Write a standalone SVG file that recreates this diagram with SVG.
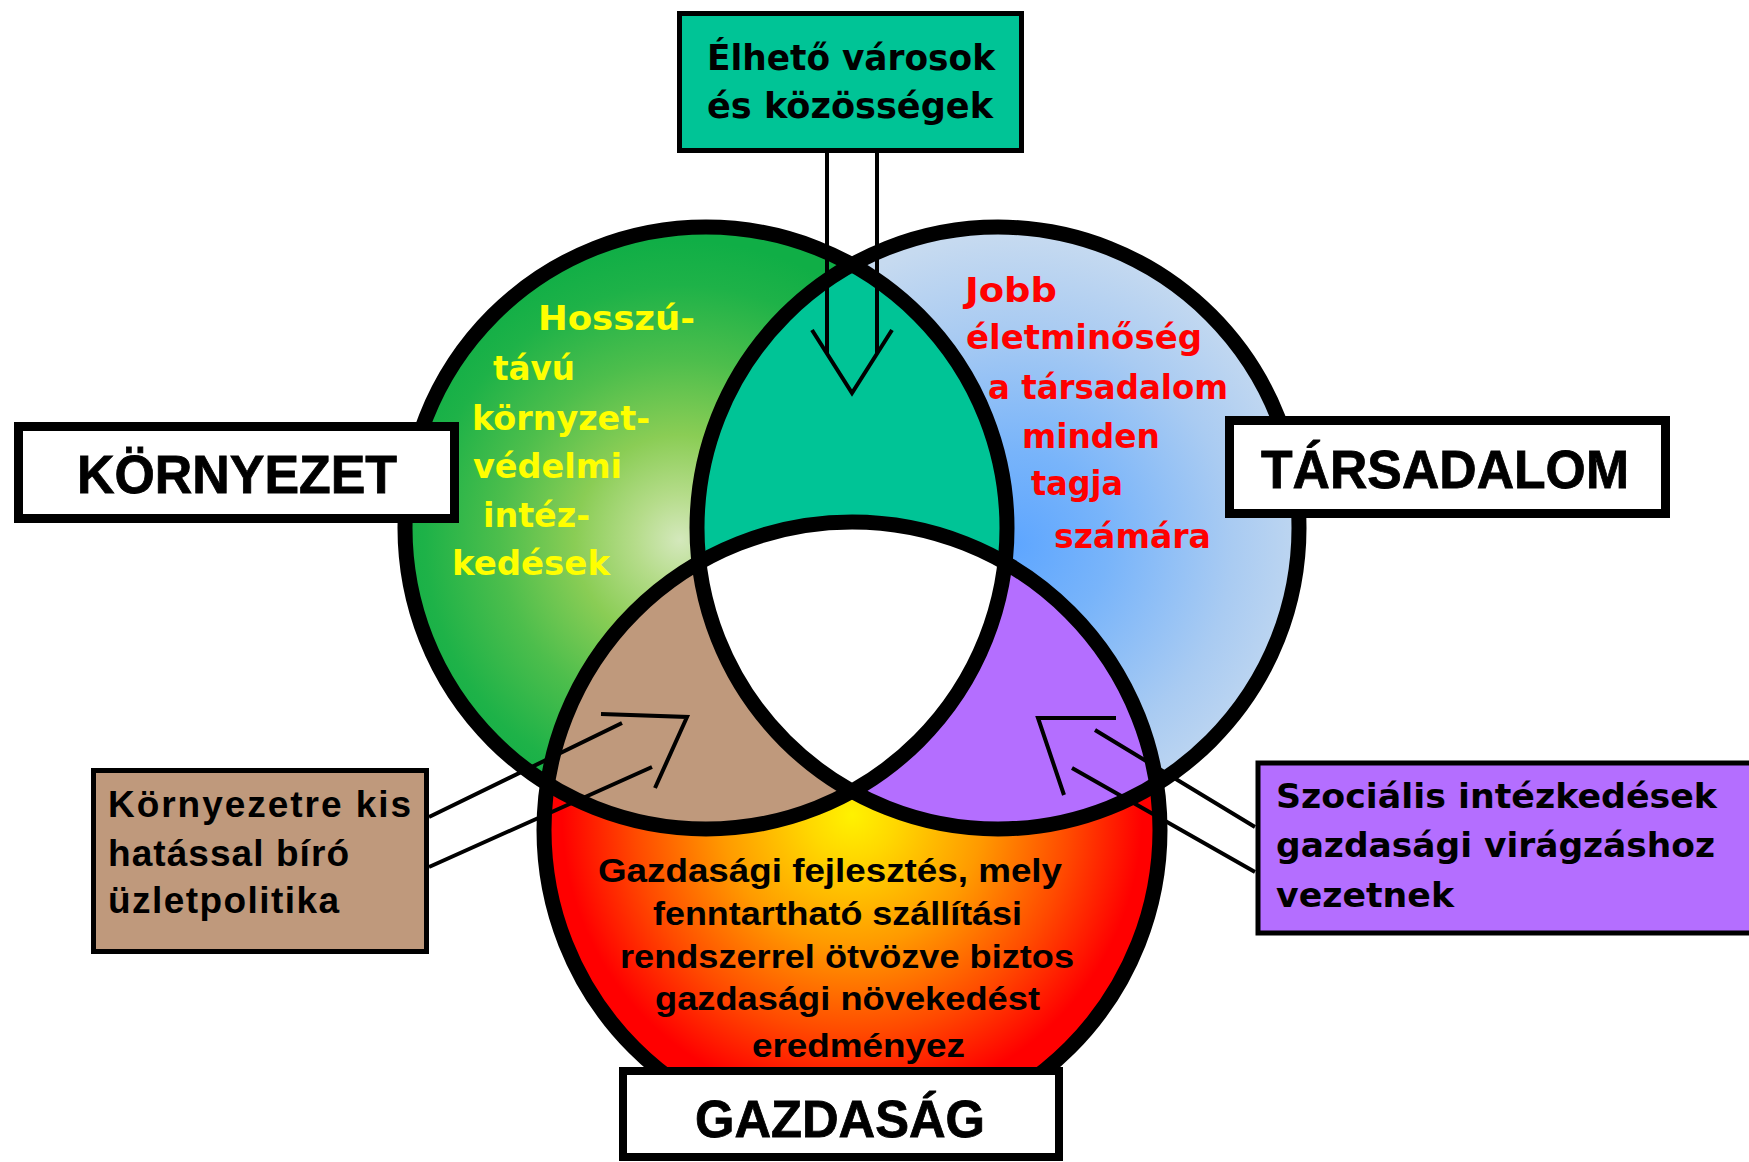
<svg xmlns="http://www.w3.org/2000/svg" width="1749" height="1162" viewBox="0 0 1749 1162">
<style>
.big { font-family: "Liberation Sans", Arial, sans-serif; font-weight: bold; font-size: 54px; fill: #000; stroke: #000; stroke-width: 0.8; }
.cond { font-family: "Liberation Sans", Arial, sans-serif; font-weight: bold; fill: #000; }
.tah { font-family: "DejaVu Sans", Verdana, sans-serif; font-weight: bold; }
.ring { fill: none; stroke: #000; stroke-width: 15; }
.conn { fill: none; stroke: #000; stroke-width: 4; stroke-linejoin: miter; }
.lblbox { fill: #fff; stroke: #000; stroke-width: 9; }
.thin { stroke: #000; stroke-width: 5; }
</style>
<defs>
  <radialGradient id="gGreen" gradientUnits="userSpaceOnUse" cx="680" cy="540" r="300">
    <stop offset="0" stop-color="#D4E8BC"/>
    <stop offset="0.15" stop-color="#B5DC8A"/>
    <stop offset="0.35" stop-color="#8ACD55"/>
    <stop offset="0.6" stop-color="#4DBE4C"/>
    <stop offset="0.85" stop-color="#1EB248"/>
    <stop offset="1" stop-color="#10AE46"/>
  </radialGradient>
  <radialGradient id="gBlue" gradientUnits="userSpaceOnUse" cx="1015" cy="545" r="310">
    <stop offset="0" stop-color="#5EA6FF"/>
    <stop offset="0.3" stop-color="#78B4FA"/>
    <stop offset="0.7" stop-color="#A9CBF2"/>
    <stop offset="1" stop-color="#C6DAF0"/>
  </radialGradient>
  <radialGradient id="gRed" gradientUnits="userSpaceOnUse" cx="852" cy="815" r="290">
    <stop offset="0" stop-color="#FFF200"/>
    <stop offset="0.15" stop-color="#FFD800"/>
    <stop offset="0.45" stop-color="#FF9A00"/>
    <stop offset="0.75" stop-color="#FF4A00"/>
    <stop offset="1" stop-color="#FF0000"/>
  </radialGradient>
  <clipPath id="clipL"><circle cx="706" cy="528" r="301"/></clipPath>
  <clipPath id="clipR"><circle cx="998" cy="528" r="301"/></clipPath>
</defs>
<rect width="1749" height="1162" fill="#fff"/>

<g id="venn">
  <circle cx="706" cy="528" r="301" fill="url(#gGreen)"/>
  <circle cx="998" cy="528" r="301" fill="url(#gBlue)"/>
  <circle cx="852" cy="830" r="308" fill="url(#gRed)"/>
  <circle cx="998" cy="528" r="301" fill="#00C496" clip-path="url(#clipL)"/>
  <circle cx="852" cy="830" r="308" fill="#BF997C" clip-path="url(#clipL)"/>
  <circle cx="852" cy="830" r="308" fill="#B46EFF" clip-path="url(#clipR)"/>
  <g clip-path="url(#clipL)"><circle cx="852" cy="830" r="308" fill="#fff" clip-path="url(#clipR)"/></g>
  <circle class="ring" cx="706" cy="528" r="301"/>
  <circle class="ring" cx="998" cy="528" r="301"/>
  <circle class="ring" cx="852" cy="830" r="308"/>
  <g id="text-env" class="tah" font-size="34" fill="#FFFF00">
    <text x="538" y="330" textLength="157" lengthAdjust="spacingAndGlyphs">Hosszú-</text>
    <text x="493" y="380" textLength="82" lengthAdjust="spacingAndGlyphs">távú</text>
    <text x="472" y="430" textLength="178" lengthAdjust="spacingAndGlyphs">környzet-</text>
    <text x="473" y="478" textLength="149" lengthAdjust="spacingAndGlyphs">védelmi</text>
    <text x="483" y="527" textLength="107" lengthAdjust="spacingAndGlyphs">intéz-</text>
    <text x="452" y="575" textLength="158" lengthAdjust="spacingAndGlyphs">kedések</text>
  </g>
  <g id="text-soc" class="tah" font-size="34" fill="#FF0000">
    <text x="965" y="302" textLength="92" lengthAdjust="spacingAndGlyphs">Jobb</text>
    <text x="966" y="349" textLength="236" lengthAdjust="spacingAndGlyphs">életminőség</text>
    <text x="988" y="399" textLength="240" lengthAdjust="spacingAndGlyphs">a társadalom</text>
    <text x="1022" y="448" textLength="138" lengthAdjust="spacingAndGlyphs">minden</text>
    <text x="1031" y="495" textLength="92" lengthAdjust="spacingAndGlyphs">tagja</text>
    <text x="1054" y="548" textLength="157" lengthAdjust="spacingAndGlyphs">számára</text>
  </g>
  <g id="text-eco" class="cond" font-size="34">
    <text x="598" y="882" textLength="464" lengthAdjust="spacingAndGlyphs">Gazdasági fejlesztés, mely</text>
    <text x="653" y="925" textLength="369" lengthAdjust="spacingAndGlyphs">fenntartható szállítási</text>
    <text x="620" y="968" textLength="454" lengthAdjust="spacingAndGlyphs">rendszerrel ötvözve biztos</text>
    <text x="655" y="1010" textLength="385" lengthAdjust="spacingAndGlyphs">gazdasági növekedést</text>
    <text x="752" y="1057" textLength="213" lengthAdjust="spacingAndGlyphs">eredményez</text>
  </g>
</g>

<g id="connectors">
  <path class="conn" d="M827,153 L827,353.6 M877,153 L877,353.6 M812,330 L852,393 L892,330"/>
  <path class="conn" d="M429,817 L622,723 M429,867 L652,767 M601,714 L687,717 L655,788"/>
  <path class="conn" d="M1255,827 L1095,730 M1255,872 L1072,768 M1116,718 L1038,718 L1064,795"/>
</g>

<g id="node-elheto">
  <rect class="thin" x="679.5" y="13.5" width="342" height="137" fill="#00C496"/>
  <text class="tah" font-size="35" x="707" y="70" textLength="288" lengthAdjust="spacingAndGlyphs">Élhető városok</text>
  <text class="tah" font-size="35" x="707" y="118" textLength="286" lengthAdjust="spacingAndGlyphs">és közösségek</text>
</g>

<g id="node-kornyezet">
  <rect class="lblbox" x="18.5" y="426.5" width="436" height="92"/>
  <text class="big" x="77" y="493" textLength="320" lengthAdjust="spacingAndGlyphs">KÖRNYEZET</text>
</g>

<g id="node-tarsadalom">
  <rect class="lblbox" x="1229.5" y="420.5" width="436" height="93"/>
  <text class="big" x="1261" y="488" textLength="368" lengthAdjust="spacingAndGlyphs">TÁRSADALOM</text>
</g>

<g id="node-gazdasag">
  <rect class="lblbox" x="623" y="1071" width="436" height="86" style="stroke-width:8"/>
  <text class="big" style="font-size:52px" x="695" y="1137" textLength="290" lengthAdjust="spacingAndGlyphs">GAZDASÁG</text>
</g>

<g id="node-uzletpolitika">
  <rect class="thin" x="93.5" y="770.5" width="333" height="181" fill="#BF997C"/>
  <text class="cond" font-size="37" x="108" y="817" textLength="303">Környezetre kis</text>
  <text class="cond" font-size="37" x="108" y="866" textLength="241">hatással bíró</text>
  <text class="cond" font-size="37" x="108" y="913" textLength="231">üzletpolitika</text>
</g>

<g id="node-szocialis">
  <rect class="thin" x="1258" y="763" width="500" height="170" fill="#B46EFF"/>
  <text class="tah" font-size="34" x="1276" y="808" textLength="441" lengthAdjust="spacingAndGlyphs">Szociális intézkedések</text>
  <text class="tah" font-size="34" x="1276" y="857" textLength="439" lengthAdjust="spacingAndGlyphs">gazdasági virágzáshoz</text>
  <text class="tah" font-size="34" x="1276" y="907" textLength="178" lengthAdjust="spacingAndGlyphs">vezetnek</text>
</g>
</svg>
